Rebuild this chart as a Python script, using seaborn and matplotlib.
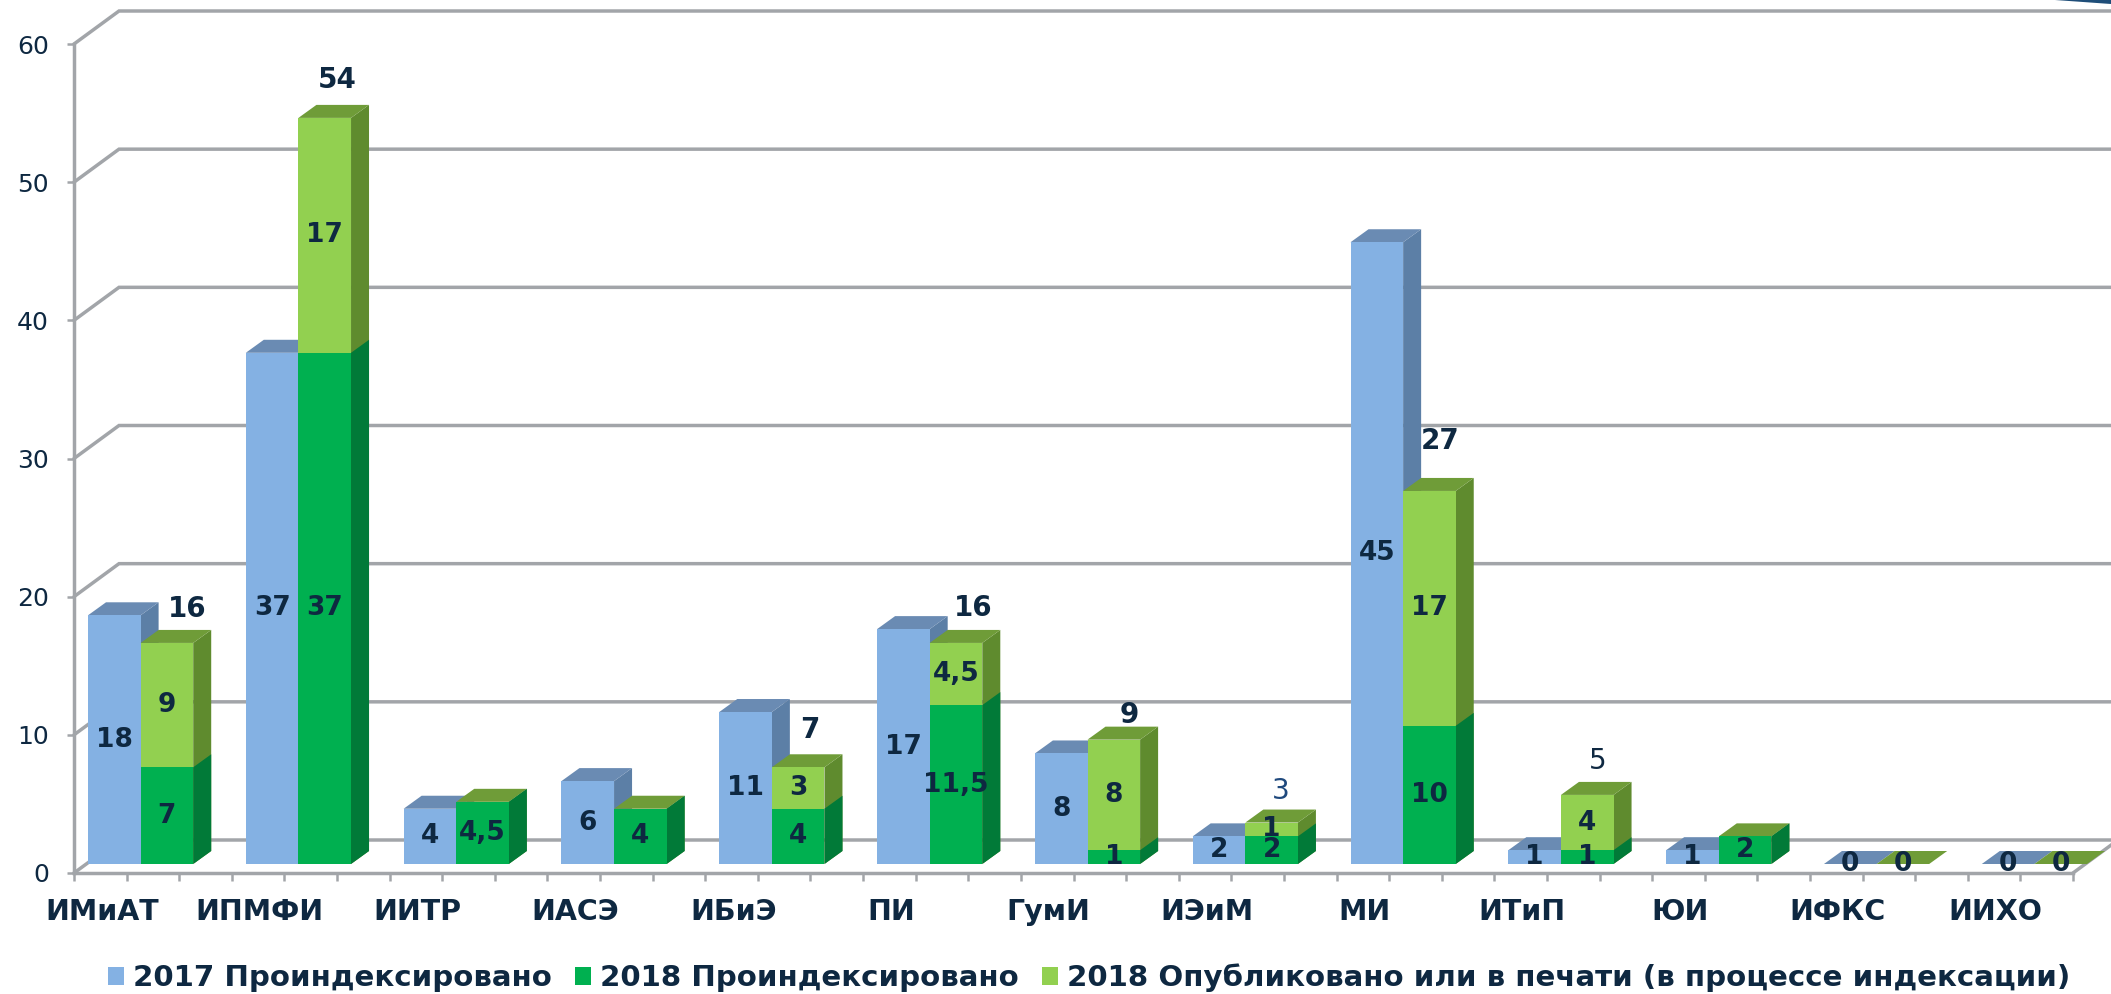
import matplotlib
matplotlib.use("Agg")
import pandas as pd
import matplotlib.pyplot as plt
import matplotlib.transforms as mtransforms
from matplotlib.patches import Patch, Polygon
import seaborn as sns

# Data
institutes = ['ИМиАТ', 'ИПМФИ', 'ИИТР', 'ИАСЭ', 'ИБиЭ', 'ПИ', 'ГумИ', 'ИЭиМ', 'МИ', 'ИТиП', 'ЮИ', 'ИФКС', 'ИИХО']
indexed_2017 = [18, 37, 4, 6, 11, 17, 8, 2, 45, 1, 1, 0, 0]
indexed_2018 = [7, 37, 4.5, 4, 4, 11.5, 1, 2, 10, 1, 2, 0, 0]
published_2018 = [9, 17, 0, 0, 3, 4.5, 8, 1, 17, 4, 0, 0, 0]
totals_2018 = [16, 54, None, None, 7, 16, 9, 3, 27, 5, None, None, None]
legend_labels = ['2017 Проиндексировано', '2018 Проиндексировано',
                 '2018 Опубликовано или в печати (в процессе индексации)']

# Hand placed total labels in the original, pixel offsets from the bar top centre
total_nudges = [(20, 34), (13, 38), None, None, (12, 37), (17, 35), (15, 25), (9, 32), (11, 50), (10, 34), None, None, None]

TEXT = '#0E2841'
GRID = '#A2A5A9'
FRONT = {'pub': '#92D050', 'idx': '#00B050', 'old': '#84B1E3'}
SIDE = {'pub': '#5F8B2E', 'idx': '#017A38', 'old': '#5C7FA6'}
TOP = {'pub': '#6F9C38', 'idx': '#6F9C38', 'old': '#6A8BB3'}

N_SLOTS = 38
PX_X = 1999 / N_SLOTS
PX_Y = 829 / 60
# Wall depth and bar depth, in data units
WALL_DX, WALL_DY = 45 / PX_X, 33 / PX_Y
BAR_DX, BAR_DY = 18 / PX_X, 13 / PX_Y

sns.set_theme(style="white")
plt.rcParams['font.family'] = ['DejaVu Sans']

fig = plt.figure(figsize=(21.11, 9.94), dpi=100)
ax = fig.add_axes([74 / 2111, (994 - 873) / 994, 1999 / 2111, 829 / 994])

# Long table, one row per bar. Totals go first so the lower segment paints over them.
rows = []
for i in range(len(institutes)):
    rows.append({'slot': 3 * i + 0.5, 'kind': 'old', 'height': indexed_2017[i]})
    rows.append({'slot': 3 * i + 1.5, 'kind': 'pub', 'height': indexed_2018[i] + published_2018[i]})
    rows.append({'slot': 3 * i + 1.5, 'kind': 'idx', 'height': indexed_2018[i]})
df = pd.DataFrame(rows)

hue_order = ['pub', 'idx', 'old']
sns.barplot(data=df, x='slot', y='height', hue='kind', hue_order=hue_order, palette=FRONT,
            native_scale=True, dodge=False, width=1, gap=0, errorbar=None, saturation=1,
            linewidth=0, legend=False, ax=ax)

ax.set_xlim(0, N_SLOTS)
ax.set_ylim(0, 60)
ax.set_xlabel('')
ax.set_ylabel('')

# The bars stand a little way back from the front edge of the floor
bar_trans = ax.transData + mtransforms.Affine2D().translate(14, 9)

# Back wall and floor lines
for v in range(0, 70, 10):
    ax.plot([0, WALL_DX, N_SLOTS + WALL_DX], [v, v + WALL_DY, v + WALL_DY],
            color=GRID, lw=2.5, zorder=1, clip_on=False, solid_joinstyle='miter')
ax.plot([N_SLOTS, N_SLOTS + WALL_DX], [0, WALL_DY], color=GRID, lw=2.5, zorder=1, clip_on=False)

# Sides and tops of the fake 3D boxes
for kind, container in zip(hue_order, ax.containers):
    for bar in container:
        x, w, h = bar.get_x(), bar.get_width(), bar.get_height()
        z = 3 + x + hue_order.index(kind) * 0.1
        bar.set_transform(bar_trans)
        bar.set_clip_on(False)
        bar.set_zorder(z + 0.02)
        side = [(x + w, 0), (x + w + BAR_DX, BAR_DY), (x + w + BAR_DX, h + BAR_DY), (x + w, h)]
        ax.add_patch(Polygon(side, closed=True, fc=SIDE[kind], ec='none', transform=bar_trans,
                             clip_on=False, zorder=z))
        if kind != 'idx':
            top = [(x, h), (x + w, h), (x + w + BAR_DX, h + BAR_DY), (x + BAR_DX, h + BAR_DY)]
            ax.add_patch(Polygon(top, closed=True, fc=TOP[kind], ec='none', transform=bar_trans,
                                 clip_on=False, zorder=z + 0.01))


def fmt(v):
    return f'{v:g}'.replace('.', ',')


# Value labels
label_font = dict(ha='center', va='center', fontsize=19, fontweight='bold', color=TEXT,
                  transform=bar_trans, zorder=100, clip_on=False)
for i in range(len(institutes)):
    ax.text(3 * i + 0.5, indexed_2017[i] / 2, fmt(indexed_2017[i]), **label_font)
    ax.text(3 * i + 1.5, indexed_2018[i] / 2, fmt(indexed_2018[i]), **label_font)
    if published_2018[i]:
        ax.text(3 * i + 1.5, indexed_2018[i] + published_2018[i] / 2, fmt(published_2018[i]), **label_font)
    if totals_2018[i] is not None:
        # the labels for 3 and 5 are lighter in the original, the 3 also bluer
        plain = totals_2018[i] in (3, 5)
        ax.annotate(fmt(totals_2018[i]), xy=(3 * i + 1.5, totals_2018[i]), xycoords=bar_trans,
                    xytext=total_nudges[i], textcoords='offset pixels', ha='center', va='center',
                    fontsize=20, fontweight='normal' if plain else 'bold',
                    color='#1F497D' if totals_2018[i] == 3 else TEXT, zorder=100, annotation_clip=False)

# Axes
sns.despine(ax=ax)
for name in ['left', 'bottom']:
    ax.spines[name].set_color(GRID)
    ax.spines[name].set_linewidth(2.5)
    ax.spines[name].set_zorder(2)
ax.set_yticks(range(0, 70, 10))
ax.tick_params(axis='y', left=True, length=5, width=1.8, color=GRID, labelsize=18, labelcolor=TEXT, pad=13)
ax.set_xticks(range(N_SLOTS + 1), labels=[''] * (N_SLOTS + 1))
ax.set_xticks([3 * i + 0.53 for i in range(len(institutes))], labels=institutes, minor=True)
ax.tick_params(axis='x', which='major', bottom=True, length=6, width=1.8, color=GRID)
ax.tick_params(axis='x', which='minor', bottom=True, length=0, pad=18, labelsize=20.5, labelcolor=TEXT)
for label in ax.get_xticklabels(minor=True):
    label.set_fontweight('bold')

# Legend
handles = [Patch(fc=FRONT[k], ec='none') for k in ['old', 'idx', 'pub']]
fig.legend(handles, legend_labels, loc='center', bbox_to_anchor=(1089 / 2111, 1 - 978 / 994), ncol=3,
           frameon=False, prop={'size': 21.1, 'weight': 'bold'}, labelcolor=TEXT,
           handlelength=0.55, handleheight=0.55, handletextpad=0.3, columnspacing=0.8)

# Sliver of the slide's decoration in the top right corner
fig.add_artist(Polygon([(2055 / 2111, 1), (1, 1), (1, 1 - 4 / 994)], closed=True, fc='#1F4E79', ec='none',
                       transform=fig.transFigure))

fig.savefig('out.png', dpi=100)
